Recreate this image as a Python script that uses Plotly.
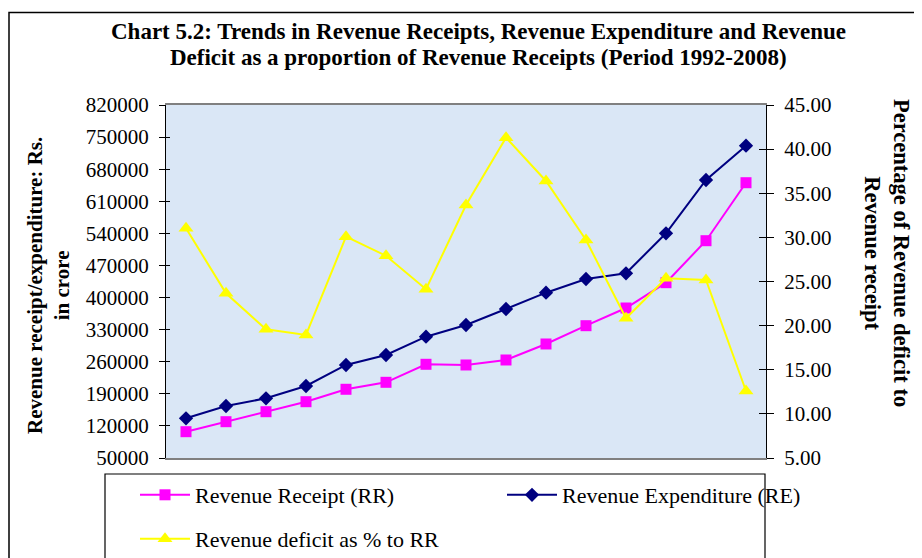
import plotly.graph_objects as go

years = ["1992-93", "1993-94", "1994-95", "1995-96", "1996-97", "1997-98", "1998-99",
         "1999-00", "2000-01", "2001-02", "2002-03", "2003-04", "2004-05", "2005-06", "2006-07"]
revenue_receipt = [107400, 129200, 151000, 172800, 199900, 215100, 254400, 252900,
                   263800, 298700, 338600, 377200, 432400, 524000, 650500]
revenue_expenditure = [136600, 163400, 180200, 207100, 252900, 274700, 314600, 340100,
                       375000, 410600, 440500, 452900, 540100, 656400, 731200]
deficit_pct = [31.03, 23.66, 19.58, 18.94, 30.08, 27.92, 24.12, 33.67, 41.30, 36.39,
               29.70, 20.83, 25.36, 25.17, 12.59]

left_ticks = list(range(50000, 820001, 70000))
right_ticks = [5 + 5 * i for i in range(9)]
right_labels = [f"{v:.2f}" for v in right_ticks]

SERIF = "Liberation Serif, Times New Roman, serif"

# page geometry (px); the page body adds an 8 px offset around the figure
PAGE_W, PAGE_H, OFF = 922, 558, 8
W, H = PAGE_W - OFF, PAGE_H - OFF
PL, PR, PT, PB = 166, 766, 105, 458   # plot area in page pixels
def px(x):
    return (x - PL) / (PR - PL)
def py(y):
    return (PB - y) / (PB - PT)

fig = go.Figure()
fig.add_trace(go.Scatter(
    x=years, y=revenue_receipt, name="Revenue Receipt (RR)", mode="lines+markers",
    line=dict(color="#FF00FF", width=2),
    marker=dict(symbol="square", size=11, color="#FF00FF"),
    legend="legend"))
fig.add_trace(go.Scatter(
    x=years, y=revenue_expenditure, name="Revenue Expenditure (RE)", mode="lines+markers",
    line=dict(color="#000080", width=2),
    marker=dict(symbol="diamond", size=11, color="#000080"),
    legend="legend"))
fig.add_trace(go.Scatter(
    x=years, y=deficit_pct, name="Revenue deficit as % to RR", mode="lines+markers",
    line=dict(color="#FFFF00", width=2),
    marker=dict(symbol="triangle-up", size=13, color="#FFFF00"),
    yaxis="y2", legend="legend2"))

title_font = dict(family=SERIF, size=23, color="black", weight="bold")
axis_title_font = dict(family=SERIF, size=21, color="black", weight="bold")
right_title_font = dict(family=SERIF, size=22.5, color="black", weight="bold")
legend_font = dict(family=SERIF, size=22, color="black")

fig.update_layout(
    width=W, height=H,
    margin=dict(l=PL - OFF, r=PAGE_W - PR, t=PT - OFF, b=PAGE_H - PB, pad=0, autoexpand=False),
    paper_bgcolor="white",
    plot_bgcolor="#dae7f6",
    font=dict(family=SERIF, size=20, color="black"),
    xaxis=dict(
        type="category", range=[-0.5, len(years) - 0.5],
        showticklabels=False, ticks="", showgrid=False, zeroline=False,
        showline=True, linecolor="#808080", linewidth=2, mirror=True),
    yaxis=dict(
        range=[50000, 820000], tickvals=left_ticks, ticktext=[str(v) for v in left_ticks],
        showgrid=False, zeroline=False, showline=True, linecolor="black", linewidth=1,
        ticks="outside", ticklen=6, tickcolor="black", ticklabelstandoff=6,
        tickfont=dict(family=SERIF, size=21, color="black")),
    yaxis2=dict(
        range=[5, 45], tickvals=right_ticks, ticktext=right_labels,
        overlaying="y", side="right", anchor="x",
        showgrid=False, zeroline=False, showline=True, linecolor="black", linewidth=1,
        ticks="outside", ticklen=7, tickcolor="black", ticklabelstandoff=6,
        tickfont=dict(family=SERIF, size=21, color="black")),
    yaxis3=dict(
        range=[50000, 820000], tickvals=left_ticks, overlaying="y", side="left", anchor="x",
        showticklabels=False, showgrid=False, zeroline=False, showline=False,
        ticks="inside", ticklen=4, tickcolor="black"),
    yaxis4=dict(
        range=[5, 45], tickvals=right_ticks, overlaying="y", side="right", anchor="x",
        showticklabels=False, showgrid=False, zeroline=False, showline=False,
        ticks="inside", ticklen=7, tickcolor="black"),
    legend=dict(
        orientation="h", x=px(135), y=py(474), xanchor="left", yanchor="top",
        xref="paper", yref="paper",
        bgcolor="rgba(0,0,0,0)", borderwidth=0,
        entrywidth=302, itemwidth=50,
        font=legend_font),
    legend2=dict(
        orientation="h", x=px(135), y=py(518), xanchor="left", yanchor="top",
        xref="paper", yref="paper",
        bgcolor="rgba(0,0,0,0)", borderwidth=0, itemwidth=50,
        font=legend_font),
    annotations=[
        dict(text="Chart 5.2: Trends in Revenue Receipts, Revenue Expenditure and Revenue",
             x=px(478), y=py(31), xref="paper", yref="paper",
             xanchor="center", yanchor="middle", showarrow=False, font=title_font),
        dict(text="Deficit as a proportion of Revenue Receipts (Period 1992-2008)",
             x=px(478), y=py(57), xref="paper", yref="paper",
             xanchor="center", yanchor="middle", showarrow=False, font=title_font),
        dict(text="Revenue receipt/expenditure: Rs.<br>in crore", textangle=-90,
             x=px(48), y=py(286), xref="paper", yref="paper",
             xanchor="center", yanchor="middle", showarrow=False,
             font=axis_title_font),
        dict(text="Percentage of Revenue deficit to<br>Revenue receipt", textangle=90,
             x=px(887), y=py(253), xref="paper", yref="paper",
             xanchor="center", yanchor="middle", showarrow=False,
             font=right_title_font),
    ],
    shapes=[
        dict(type="rect", xref="paper", yref="paper",
             x0=px(9), x1=px(940), y0=py(600), y1=py(12.5),
             line=dict(color="black", width=1.5), layer="below"),
        dict(type="rect", xref="paper", yref="paper",
             x0=px(105), x1=px(765), y0=py(600), y1=py(474),
             line=dict(color="black", width=1.2), fillcolor="white", layer="below"),
    ],
    showlegend=True,
)

# helper traces that activate the inner tick marks
fig.add_trace(go.Scatter(x=[years[0]], y=[None], yaxis="y3", showlegend=False, hoverinfo="skip"))
fig.add_trace(go.Scatter(x=[years[0]], y=[None], yaxis="y4", showlegend=False, hoverinfo="skip"))

fig.write_html("out.html")
